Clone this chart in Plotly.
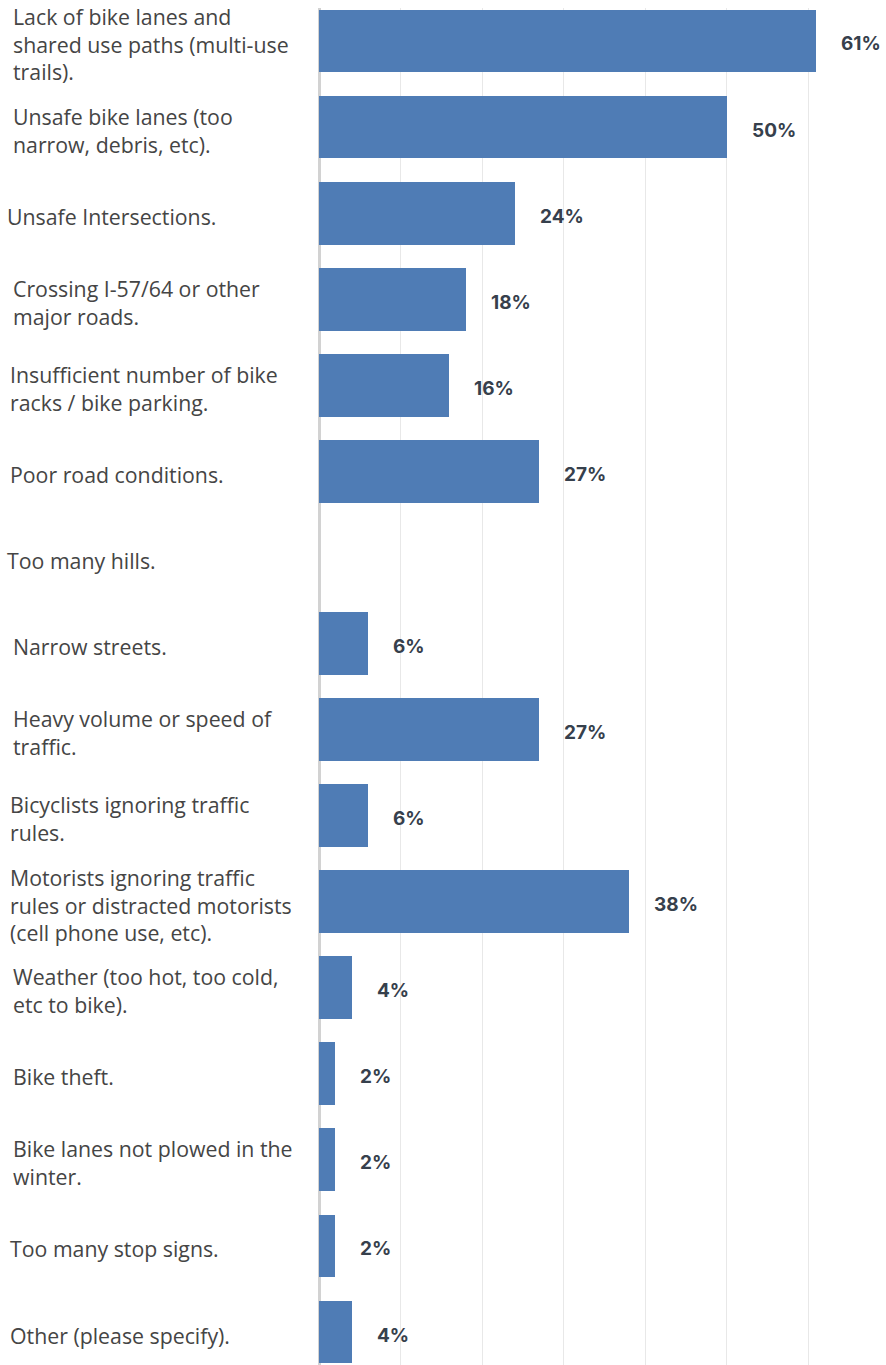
import plotly.graph_objects as go

# Survey responses: barriers to bicycling (share of respondents, %)
categories = [
    "Lack of bike lanes and<br>shared use paths (multi-use<br>trails).",
    "Unsafe bike lanes (too<br>narrow, debris, etc).",
    "Unsafe Intersections.",
    "Crossing I-57/64 or other<br>major roads.",
    "Insufficient number of bike<br>racks / bike parking.",
    "Poor road conditions.",
    "Too many hills.",
    "Narrow streets.",
    "Heavy volume or speed of<br>traffic.",
    "Bicyclists ignoring traffic<br>rules.",
    "Motorists ignoring traffic<br>rules or distracted motorists<br>(cell phone use, etc).",
    "Weather (too hot, too cold,<br>etc to bike).",
    "Bike theft.",
    "Bike lanes not plowed in the<br>winter.",
    "Too many stop signs.",
    "Other (please specify).",
]
values = [61, 50, 24, 18, 16, 27, 0, 6, 27, 6, 38, 4, 2, 2, 2, 4]

# left offsets (px) of each category label
label_left = [11, 11, 5, 11, 8, 8, 5, 11, 11, 8, 8, 11, 11, 11, 8, 8]

BAR_COLOR = "#4f7cb5"
W, H = 886, 1365
M_LEFT, M_TOP = 319, 8

fig = go.Figure(
    go.Bar(
        x=values,
        y=categories,
        orientation="h",
        marker=dict(color=BAR_COLOR, line=dict(width=0)),
        width=0.73,
        hoverinfo="skip",
    )
)

annotations = []
for cat, val, left in zip(categories, values, label_left):
    annotations.append(dict(
        x=0, xref="paper", y=cat, yref="y",
        xanchor="left", yanchor="middle", align="left",
        xshift=left - M_LEFT, yshift=-3,
        text=cat, showarrow=False,
        font=dict(family="Open Sans", size=21.3, color="#454545"),
    ))
    if val > 0:
        annotations.append(dict(
            x=val, xref="x", y=cat, yref="y",
            xanchor="left", yanchor="middle",
            xshift=23, yshift=-3,
            text=f"{val}%", showarrow=False,
            font=dict(family="Inter", size=19, color="#36404c", weight=700),
        ))

fig.update_layout(
    width=W, height=H,
    margin=dict(l=M_LEFT, r=0, t=M_TOP, b=0, pad=0),
    paper_bgcolor="white", plot_bgcolor="white",
    showlegend=False,
    bargap=0,
    annotations=annotations,
    xaxis=dict(
        range=[0, (W - M_LEFT) / 8.15],
        dtick=10, tick0=0,
        showgrid=True, gridcolor="#e8e8e8", gridwidth=1,
        zeroline=True, zerolinecolor="#d2d2d2", zerolinewidth=3,
        showticklabels=False, ticks="", showline=False,
        fixedrange=True,
    ),
    yaxis=dict(
        type="category",
        range=[15.383, -0.383],
        showticklabels=False, ticks="", showgrid=False,
        zeroline=False, showline=False,
        fixedrange=True,
    ),
)

fig.write_html("out.html", config=dict(displayModeBar=False))
